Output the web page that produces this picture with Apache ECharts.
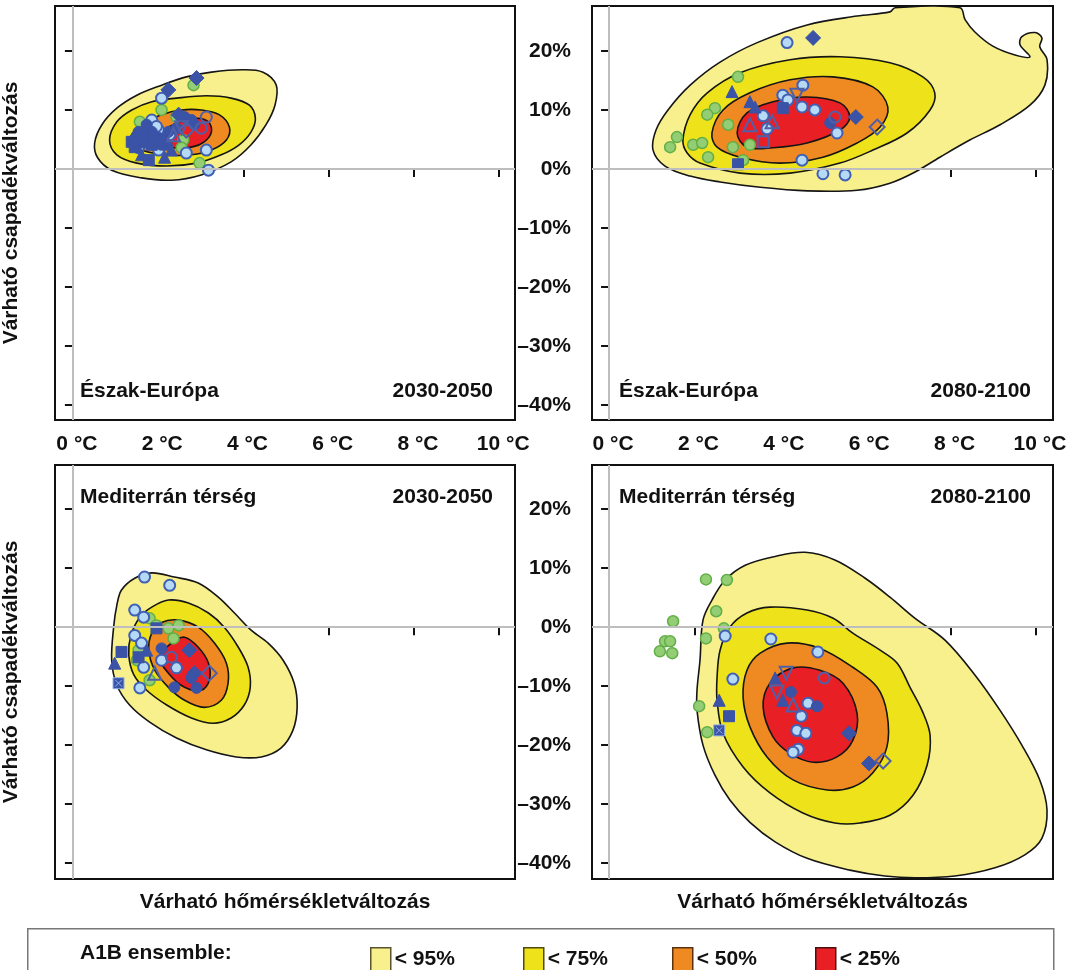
<!DOCTYPE html>
<html><head><meta charset="utf-8">
<script src="https://cdn.jsdelivr.net/npm/echarts@6/dist/echarts.min.js"></script>
<style>html,body{margin:0;padding:0;background:#fff}#c{width:1073px;height:970px}</style>
</head><body><div id="c"></div><script>
// ---------- tick values ----------
const X_TICKS = [0, 2, 4, 6, 8, 10];
const Y_TICKS = [-40, -30, -20, -10, 0, 10, 20];
const LEVEL_NAMES = ['< 95%', '< 75%', '< 50%', '< 25%'];
const PANEL_REGIONS = ['Észak-Európa', 'Észak-Európa', 'Mediterrán térség', 'Mediterrán térség'];
const PANEL_PERIODS = ['2030-2050', '2080-2100', '2030-2050', '2080-2100'];

// ---------- contours [temperature °C, precipitation %] ----------
// Észak-Európa 2030-2050
const TL_95 = [[0.51,4.4],[0.68,7.5],[1.03,10.3],[1.50,12.5],[2.08,14.2],[2.66,15.6],[3.25,16.4],[3.95,16.8],[4.46,16.4],[4.77,14.2],[4.74,10.8],[4.53,7.5],[4.18,4.1],[3.71,1.2],[3.01,-1.0],[2.31,-1.9],[1.61,-1.5],[0.91,-0.2],[0.58,1.9]];
const TL_75 = [[0.86,4.9],[1.03,8.0],[1.38,10.0],[1.85,11.4],[2.43,12.0],[3.13,12.4],[3.71,12.0],[4.14,10.8],[4.28,8.6],[4.18,6.3],[3.90,4.1],[3.48,2.4],[2.90,1.0],[2.20,0.5],[1.50,1.0],[1.03,2.4]];
const TL_50 = [[1.33,4.9],[1.61,7.5],[2.08,9.2],[2.55,10.0],[3.01,10.0],[3.43,9.2],[3.67,7.1],[3.60,4.9],[3.25,3.2],[2.78,2.4],[2.20,2.4],[1.61,3.2]];
const TL_25 = [[1.92,4.9],[2.20,6.9],[2.55,8.1],[2.90,8.6],[3.18,8.0],[3.25,6.3],[3.08,4.6],[2.78,3.7],[2.31,3.6],[2.01,3.9]];
// Észak-Európa 2080-2100
const TR_95 = [[1.03,3.2],[1.10,6.6],[1.38,10.0],[1.90,14.2],[2.60,18.1],[3.47,21.4],[4.64,24.4],[5.81,25.9],[6.58,26.6],[6.70,27.3],[8.22,27.3],[8.34,25.3],[8.57,23.2],[8.99,20.8],[9.51,19.3],[9.86,19.0],[9.63,21.0],[9.67,22.4],[9.98,23.1],[10.14,22.2],[10.09,20.7],[10.26,18.5],[10.21,14.2],[9.86,10.8],[9.16,7.5],[8.45,4.9],[7.75,2.0],[7.17,-0.5],[6.58,-2.4],[5.81,-3.6],[4.64,-3.7],[3.54,-3.1],[2.60,-2.2],[1.90,-1.2],[1.31,0.5]];
const TR_75 = [[1.73,4.9],[1.90,9.2],[2.30,12.9],[3.07,16.3],[4.24,18.5],[5.41,19.0],[6.58,18.0],[7.35,15.6],[7.63,12.9],[7.52,10.0],[6.98,6.1],[6.18,3.2],[5.41,1.0],[4.24,-0.7],[3.07,-0.7],[2.13,1.0],[1.83,2.7]];
const TR_50 = [[2.41,6.1],[2.67,10.0],[3.30,12.9],[4.24,15.1],[5.25,15.6],[6.18,13.9],[6.53,10.5],[6.35,7.1],[5.81,4.4],[5.01,2.0],[4.00,1.0],[3.07,2.0],[2.53,3.7]];
const TR_25 = [[3.00,6.1],[3.23,9.5],[3.84,11.4],[4.64,12.2],[5.41,11.2],[5.64,8.8],[5.41,6.6],[4.64,4.4],[3.84,3.6],[3.23,3.7]];
// Mediterrán térség 2030-2050
const BL_95 = [[1.14,6.3],[1.45,8.3],[1.85,9.2],[2.38,8.5],[2.94,7.5],[3.41,5.1],[3.79,2.4],[4.18,-0.5],[4.58,-2.7],[4.93,-5.6],[5.19,-9.5],[5.26,-13.6],[5.16,-17.5],[4.88,-20.5],[4.42,-22.0],[3.83,-22.0],[3.13,-20.8],[2.43,-18.8],[1.80,-16.1],[1.33,-13.2],[1.03,-9.8],[0.91,-5.6],[0.96,0.3],[1.03,3.7]];
const BL_75 = [[1.85,3.4],[2.24,4.6],[2.71,4.1],[3.18,2.4],[3.55,0.0],[3.88,-3.4],[4.11,-6.8],[4.16,-10.2],[4.02,-13.2],[3.71,-15.4],[3.29,-16.3],[2.78,-15.4],[2.20,-13.2],[1.73,-10.7],[1.43,-8.1],[1.31,-4.7],[1.36,-1.4],[1.57,1.7]];
const BL_50 = [[2.08,0.8],[2.48,1.2],[2.94,0.0],[3.32,-2.7],[3.60,-6.1],[3.64,-9.5],[3.48,-12.4],[3.08,-13.6],[2.62,-12.4],[2.24,-10.2],[1.92,-7.3],[1.78,-3.9],[1.85,-1.0]];
const BL_25 = [[2.31,-2.7],[2.62,-1.7],[2.94,-3.4],[3.18,-6.1],[3.20,-9.0],[3.01,-10.7],[2.62,-10.2],[2.24,-7.8],[2.03,-5.1]];
// Mediterrán térség 2080-2100
const BR_95 = [[2.13,-5.6],[2.20,1.2],[2.41,4.6],[2.72,8.0],[3.19,10.5],[3.89,12.0],[4.59,12.7],[5.29,11.4],[6.00,8.3],[6.58,5.1],[7.17,1.5],[7.87,-2.2],[8.57,-8.1],[9.16,-14.1],[9.67,-20.0],[10.09,-25.9],[10.26,-31.0],[10.14,-35.8],[9.74,-38.6],[9.04,-40.8],[8.10,-42.2],[7.17,-42.5],[6.46,-42.2],[5.64,-41.2],[4.64,-39.2],[3.89,-36.4],[3.30,-33.1],[2.83,-29.3],[2.48,-25.1],[2.20,-20.0],[2.06,-14.1],[2.06,-10.7]];
const BR_75 = [[2.53,-8.5],[2.60,-3.9],[2.83,0.0],[3.23,2.4],[3.77,3.4],[4.64,2.9],[5.25,1.5],[5.71,-1.0],[6.35,-3.9],[6.75,-6.1],[7.05,-10.2],[7.33,-14.1],[7.52,-18.3],[7.45,-23.4],[7.12,-28.5],[6.58,-31.9],[5.88,-33.2],[5.29,-33.2],[4.54,-31.5],[3.77,-28.1],[3.14,-23.7],[2.67,-18.0],[2.53,-12.4]];
const BR_50 = [[3.14,-11.9],[3.23,-7.3],[3.54,-4.4],[4.17,-2.7],[4.94,-3.6],[5.71,-6.8],[6.28,-10.2],[6.51,-14.6],[6.51,-20.3],[6.18,-24.7],[5.71,-27.1],[5.11,-27.6],[4.31,-25.9],[3.70,-22.0],[3.30,-16.9]];
const BR_25 = [[3.61,-13.6],[3.77,-9.5],[4.31,-6.9],[4.94,-7.3],[5.48,-9.5],[5.81,-14.6],[5.71,-19.2],[5.34,-22.0],[4.78,-22.9],[4.24,-21.4],[3.84,-18.6]];

// ---------- model points [temperature °C, precipitation %] ----------
const TL_GREEN = [[2.83,14.2],[2.08,10.0],[1.57,8.0],[2.43,8.8],[2.59,4.9],[2.55,3.6],[2.97,1.0],[1.78,6.6],[2.08,11.9]];
const TL_LIGHT = [[2.08,12.0],[2.01,6.6],[1.68,4.9],[1.54,3.6],[2.01,3.2],[2.66,2.7],[3.13,3.2],[3.18,-0.2],[1.85,8.3],[2.27,5.8],[1.96,7.2],[1.80,4.8]];
const TL_DDIA = [[2.90,15.4],[2.24,13.4],[2.48,9.2]];
const TL_DCIR = [[2.62,8.8],[2.85,7.5],[1.85,6.3],[1.54,6.3],[1.68,5.4],[2.01,5.3],[2.24,6.3],[2.08,4.1],[1.85,4.9],[2.20,4.1],[2.43,6.9],[2.78,8.3],[1.50,4.1],[1.73,7.5]];
const TL_DTRI = [[1.68,4.6],[2.15,2.0],[1.61,2.4],[2.31,3.2],[1.40,5.2]];
const TL_DSQ = [[1.45,3.7],[1.85,4.1],[1.78,1.5],[2.08,4.9],[1.61,5.8],[1.38,4.6]];
const TL_OCIR = [[3.13,8.8],[3.01,6.9]];
const TL_ODIA = [[2.66,6.6]];
const TL_OTRI = [[2.36,5.8]];
const TL_OTRID = [[2.55,7.0]];
const TL_OSQ = [];
const TL_XSQ = [];

const TR_GREEN = [[3.02,15.6],[2.48,10.3],[2.30,9.2],[1.59,5.4],[1.43,3.7],[1.97,4.1],[2.18,4.4],[2.32,2.0],[2.79,7.5],[2.90,3.7],[3.30,4.1],[3.14,1.5]];
const TR_LIGHT = [[4.17,21.4],[4.54,14.2],[4.07,12.5],[4.19,11.7],[4.52,10.5],[4.82,10.0],[3.61,9.0],[3.70,6.8],[5.34,6.1],[4.52,1.5],[5.01,-0.8],[5.53,-1.0]];
const TR_DDIA = [[4.78,22.2],[5.78,8.8]];
const TR_DCIR = [[5.18,7.8]];
const TR_DTRI = [[2.88,13.1],[3.30,11.4],[3.42,10.5]];
const TR_DSQ = [[4.07,10.3],[3.02,0.8]];
const TR_OCIR = [[5.29,8.8]];
const TR_ODIA = [[6.28,7.1]];
const TR_OTRI = [[3.30,7.5],[3.82,8.0]];
const TR_OTRID = [[4.40,12.5]];
const TR_OSQ = [[3.61,4.6]];
const TR_XSQ = [];

const BL_GREEN = [[1.80,1.5],[1.96,0.3],[2.24,-0.2],[2.48,0.3],[2.36,-1.9],[1.54,-3.9],[1.50,-5.6],[1.80,-9.0]];
const BL_LIGHT = [[1.68,8.5],[2.27,7.1],[1.45,2.9],[1.66,1.7],[1.45,-1.4],[1.61,-2.7],[2.43,-6.9],[1.57,-10.3],[1.66,-6.8],[2.08,-5.6]];
const BL_DDIA = [[2.73,-3.9],[2.85,-7.8]];
const BL_DCIR = [[2.38,-10.2],[2.90,-10.3],[2.78,-8.6],[2.08,-3.6]];
const BL_DTRI = [[0.98,-6.1],[1.73,-3.9]];
const BL_DSQ = [[1.14,-4.2],[1.96,-0.2],[1.54,-5.1]];
const BL_OCIR = [[2.31,-5.1]];
const BL_ODIA = [[3.20,-7.8]];
const BL_OTRI = [[1.92,-7.8]];
const BL_OTRID = [];
const BL_OSQ = [];
const BL_XSQ = [[1.07,-9.5]];

const BR_GREEN = [[2.27,8.1],[2.76,8.0],[2.51,2.7],[1.50,1.0],[2.69,-0.2],[2.27,-1.9],[1.31,-2.4],[1.43,-2.4],[1.19,-4.1],[1.48,-4.4],[2.11,-13.4],[2.30,-17.8]];
const BR_LIGHT = [[2.72,-1.5],[3.79,-2.0],[4.89,-4.2],[2.90,-8.8],[4.66,-12.9],[4.50,-15.1],[4.40,-17.5],[4.61,-18.0],[4.43,-20.7],[4.31,-21.2]];
const BR_DDIA = [[5.62,-18.0],[6.09,-23.1]];
const BR_DCIR = [[4.26,-11.0],[4.87,-13.4]];
const BR_DTRI = [[2.58,-12.4],[3.89,-8.6],[4.07,-12.4]];
const BR_DSQ = [[2.81,-15.1]];
const BR_OCIR = [[5.04,-8.6]];
const BR_ODIA = [[6.42,-22.7]];
const BR_OTRI = [[4.31,-13.2]];
const BR_OTRID = [[4.15,-7.8],[3.93,-11.0]];
const BR_OSQ = [];
const BR_XSQ = [[2.58,-17.5]];

// ---------- styling ----------
const FONT = "'Liberation Sans Narrow', 'Arial Narrow', 'Liberation Sans', Arial, sans-serif";
const LEVEL_COLORS = ['#F8F08C', '#EEE31A', '#EF8A22', '#E91F26'];
const LEVEL_BORDERS = ['#5b5230', '#4e4a10', '#5a3210', '#4a1010'];
const BLUE = '#3A53A6';
const GRIDS = [
  {left: 53, top: 6, width: 462, height: 414},
  {left: 592, top: 6, width: 461, height: 414},
  {left: 53, top: 465, width: 462, height: 414},
  {left: 592, top: 465, width: 461, height: 414}
];
const X_RANGE = [[-0.42, 10.37], [-0.40, 10.40], [-0.42, 10.37], [-0.40, 10.40]];
const Y_RANGE = [[-42.5, 27.6], [-42.5, 27.6], [-42.7, 27.5], [-42.7, 27.5]];

const CONTOURS = [
  [TL_95, TL_75, TL_50, TL_25],
  [TR_95, TR_75, TR_50, TR_25],
  [BL_95, BL_75, BL_50, BL_25],
  [BR_95, BR_75, BR_50, BR_25]
];
const POINTS = [
  {green: TL_GREEN, light: TL_LIGHT, ddia: TL_DDIA, dcir: TL_DCIR, dtri: TL_DTRI, dsq: TL_DSQ, ocir: TL_OCIR, odia: TL_ODIA, otri: TL_OTRI, otrid: TL_OTRID, osq: TL_OSQ, xsq: TL_XSQ},
  {green: TR_GREEN, light: TR_LIGHT, ddia: TR_DDIA, dcir: TR_DCIR, dtri: TR_DTRI, dsq: TR_DSQ, ocir: TR_OCIR, odia: TR_ODIA, otri: TR_OTRI, otrid: TR_OTRID, osq: TR_OSQ, xsq: TR_XSQ},
  {green: BL_GREEN, light: BL_LIGHT, ddia: BL_DDIA, dcir: BL_DCIR, dtri: BL_DTRI, dsq: BL_DSQ, ocir: BL_OCIR, odia: BL_ODIA, otri: BL_OTRI, otrid: BL_OTRID, osq: BL_OSQ, xsq: BL_XSQ},
  {green: BR_GREEN, light: BR_LIGHT, ddia: BR_DDIA, dcir: BR_DCIR, dtri: BR_DTRI, dsq: BR_DSQ, ocir: BR_OCIR, odia: BR_ODIA, otri: BR_OTRI, otrid: BR_OTRID, osq: BR_OSQ, xsq: BR_XSQ}
];
const MARKERS = {
  green: {symbol: 'circle', size: 11, rotate: 0, style: {color: '#93CD74', borderColor: '#62AE47', borderWidth: 1.5}},
  light: {symbol: 'circle', size: 11, rotate: 0, style: {color: '#B6DAF5', borderColor: '#4160B4', borderWidth: 2}},
  ddia: {symbol: 'diamond', size: 15, rotate: 0, style: {color: BLUE, borderColor: BLUE, borderWidth: 1}},
  dcir: {symbol: 'circle', size: 11, rotate: 0, style: {color: BLUE, borderColor: BLUE, borderWidth: 1}},
  dtri: {symbol: 'triangle', size: 12, rotate: 0, style: {color: BLUE, borderColor: BLUE, borderWidth: 1}},
  dsq: {symbol: 'rect', size: 11, rotate: 0, style: {color: BLUE, borderColor: BLUE, borderWidth: 1}},
  ocir: {symbol: 'circle', size: 11, rotate: 0, style: {color: 'rgba(0,0,0,0)', borderColor: '#5060A8', borderWidth: 2}},
  odia: {symbol: 'diamond', size: 15, rotate: 0, style: {color: 'rgba(0,0,0,0)', borderColor: '#5060A8', borderWidth: 2}},
  otri: {symbol: 'triangle', size: 13, rotate: 0, style: {color: 'rgba(0,0,0,0)', borderColor: '#5060A8', borderWidth: 2}},
  otrid: {symbol: 'triangle', size: 13, rotate: 180, style: {color: 'rgba(0,0,0,0)', borderColor: '#5060A8', borderWidth: 2}},
  osq: {symbol: 'rect', size: 11, rotate: 0, style: {color: 'rgba(0,0,0,0)', borderColor: '#5060A8', borderWidth: 2}},
  xsq: {symbol: 'path://M0,0H10V10H0Z M2,2L8,8M8,2L2,8', size: 11, rotate: 0, style: {color: BLUE, borderColor: '#8fb0e8', borderWidth: 1}}
};

const labelStyle = {fontFamily: FONT, fontWeight: 'bold', fontSize: 21, color: '#111'};

const grid = GRIDS.map(g => Object.assign({show: true, borderColor: '#111', borderWidth: 2, backgroundColor: 'rgba(0,0,0,0)', containLabel: false}, g));

const xAxis = GRIDS.map((g, i) => ({
  type: 'value', gridIndex: i, min: X_RANGE[i][0], max: X_RANGE[i][1],
  splitLine: {show: false}, axisLine: {show: false},
  axisTick: {show: true, customValues: X_TICKS, length: 8, lineStyle: {color: '#111', width: 2}},
  axisLabel: Object.assign({show: i < 2, customValues: X_TICKS, margin: 14, padding: [0, 0, 0, 8], formatter: v => v + ' °C'}, labelStyle),
  name: i >= 2 ? 'Várható hőmérsékletváltozás' : '', nameLocation: 'middle', nameGap: 13,
  nameTextStyle: Object.assign({}, labelStyle, {fontSize: 21, verticalAlign: 'top'})
}));

const yAxis = GRIDS.map((g, i) => ({
  type: 'value', gridIndex: i, min: Y_RANGE[i][0], max: Y_RANGE[i][1],
  splitLine: {show: false}, axisLine: {show: false},
  axisTick: {show: true, customValues: Y_TICKS, length: 8, lineStyle: {color: '#111', width: 2}},
  axisLabel: Object.assign({show: i % 2 === 1, customValues: Y_TICKS, margin: 21,
    formatter: v => (v < 0 ? '\u2013' + Math.abs(v) : v) + '%'}, labelStyle),
  name: i % 2 === 0 ? 'Várható csapadékváltozás' : '', nameLocation: 'middle', nameGap: 33, nameRotate: 90,
  nameTextStyle: Object.assign({}, labelStyle, {fontSize: 21})
}));

const series = [];
CONTOURS.forEach((levels, gi) => {
  levels.forEach((pts, li) => {
    series.push({
      type: 'custom', name: LEVEL_NAMES[li], xAxisIndex: gi, yAxisIndex: gi, z: 2, clip: true,
      silent: true, animation: false,
      itemStyle: {color: LEVEL_COLORS[li], borderColor: LEVEL_BORDERS[li]},
      data: pts,
      renderItem: (params, api) => {
        if (params.dataIndex !== 0) return null;
        return {
          type: 'polygon',
          shape: {points: pts.map(p => api.coord(p)), smooth: 0.35},
          style: {fill: LEVEL_COLORS[li], stroke: '#151515', lineWidth: 1.6}
        };
      }
    });
  });
});
POINTS.forEach((set, gi) => {
  Object.keys(MARKERS).forEach((key) => {
    const m = MARKERS[key];
    const s = {
      type: 'scatter', name: key + gi, xAxisIndex: gi, yAxisIndex: gi,
      z: key === 'green' ? 3 : 4, animation: false, silent: true,
      symbol: m.symbol, symbolSize: m.size, symbolRotate: m.rotate,
      itemStyle: Object.assign({opacity: 1}, m.style),
      data: set[key]
    };
    if (key === 'green') {
      s.markLine = {
        silent: true, symbol: 'none', animation: false, label: {show: false},
        lineStyle: {color: '#BEBEBE', width: 2, type: 'solid'},
        data: [{xAxis: 0}, {yAxis: 0}]
      };
    }
    series.push(s);
  });
});

const LEGEND_LEFT = [365, 518, 667, 810];
const legend = LEVEL_NAMES.map((n, i) => ({
  data: [{name: n, itemStyle: {color: LEVEL_COLORS[i], borderColor: LEVEL_BORDERS[i], borderWidth: 1.5}}],
  left: LEGEND_LEFT[i], top: 942, icon: 'rect', itemWidth: 20, itemHeight: 23, itemGap: 4,
  selectedMode: false,
  textStyle: {fontFamily: FONT, fontWeight: 'bold', fontSize: 21, color: '#111', padding: [0, 0, 0, -1]}
}));

const graphic = [
  {type: 'rect', left: 27, top: 928, shape: {width: 1026, height: 60}, style: {fill: 'rgba(0,0,0,0)', stroke: '#777', lineWidth: 1.5}, silent: true},
  {type: 'text', left: 80, top: 943, style: {text: 'A1B ensemble:', font: "bold 21px " + FONT, fill: '#111'}, silent: true}
];
GRIDS.forEach((g, i) => {
  const y = i < 2 ? g.top + g.height - 39 : g.top + 22;
  graphic.push({type: 'text', left: g.left + 27, top: y, style: {text: PANEL_REGIONS[i], font: "bold 21px " + FONT, fill: '#111'}, silent: true});
  graphic.push({type: 'text', right: 1073 - (g.left + g.width - 22), top: y, style: {text: PANEL_PERIODS[i], font: "bold 21px " + FONT, fill: '#111'}, silent: true});
});

const chart = echarts.init(document.getElementById('c'), null, {renderer: 'canvas'});
chart.setOption({animation: false, backgroundColor: '#fff', grid, xAxis, yAxis, series, legend, graphic});
</script></body></html>
